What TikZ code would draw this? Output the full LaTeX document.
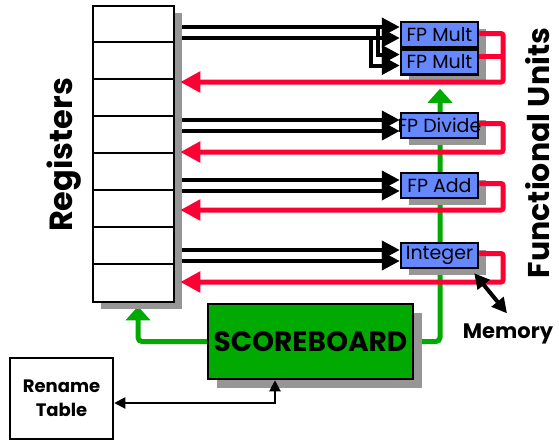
\documentclass[tikz,border=0pt]{standalone}
\usepackage{fontspec}
\setmainfont{Poppins}
\usetikzlibrary{arrows.meta,positioning,calc,shadows,backgrounds}
\definecolor{fublue}{RGB}{102,136,255}
\definecolor{fured}{RGB}{255,0,51}
\definecolor{fugreen}{RGB}{0,170,0}
\definecolor{fushadow}{RGB}{150,150,150}
\newcommand{\funame}[1]{\makebox[0pt]{#1}}
\tikzset{
  fushade/.style={drop shadow={shadow xshift=8pt, shadow yshift=-7pt, fill=fushadow, opacity=1}},
  fubox/.style={draw=black, line width=2.5pt, fill=fublue, minimum width=77pt, minimum height=25pt, inner sep=0pt, font=\fontsize{19}{19}\selectfont, fushade},
  regbox/.style={draw=black, line width=2.5pt, fill=white, minimum width=81pt, minimum height=296pt, inner sep=0pt, fushade},
  scorebox/.style={draw=black, line width=2.5pt, fill=fugreen, minimum width=205pt, minimum height=75pt, inner sep=0pt, font=\fontsize{28}{28}\selectfont\bfseries, drop shadow={shadow xshift=9pt, shadow yshift=-9pt, fill=fushadow, opacity=1}},
  renamebox/.style={draw=black, line width=2.5pt, fill=white, minimum width=103pt, minimum height=81pt, inner sep=0pt, align=center, font=\fontsize{18}{24}\selectfont\bfseries},
  bigtext/.style={font=\fontsize{#1}{#1}\selectfont\bfseries, rotate=90},
  fubus/.style={line width=4pt, -{Triangle[length=18pt,width=18pt]}},
  fuback/.style={draw=fured, line width=5pt, rounded corners=2pt, -{Triangle[length=20pt,width=20pt]}},
  fuissue/.style={draw=fugreen, line width=5pt, rounded corners=4pt, -{Triangle[length=14pt,width=24pt]}},
  fuplain/.style={line width=2pt, {Triangle[length=11pt,width=11pt]}-{Triangle[length=11pt,width=11pt]}},
  fumem/.style={line width=4pt, {Triangle[length=15pt,width=15pt]}-{Triangle[length=15pt,width=15pt]}}
}

\begin{document}
\begin{tikzpicture}[x=1pt, y=-1pt]
  \useasboundingbox (0,0) rectangle (559,440);

  % register file
  \node[regbox] (regs) at (133.5,154) {};
  \foreach \i in {1,...,7}
    \draw[line width=2.5pt] ($(regs.north west)+(0,37*\i)$) -- ($(regs.north east)+(0,37*\i)$);
  \node[bigtext=32] (reglab) at (64,155) {Registers};

  % scoreboard and rename table
  \node[scorebox] (score) at (310.5,341.5) {SCOREBOARD};
  \node[renamebox] (rename) at (61.5,398.5) {Rename\\Table};
  \draw[fuplain] ($(rename.east)+(0,4.5)$) -| ($(score.south)+(-35.5,0)$);

  % functional units
  \node[fubox] (fpmA) at (439.5,34.5) {\funame{FP Mult}};
  \node[fubox, below=0pt of fpmA] (fpmB) {\funame{FP Mult}};
  \node[fubox] (fpdiv) at (439.5,125.5) {\funame{FP Divide}};
  \node[fubox] (fpadd) at (439.5,185.5) {\funame{FP Add}};
  \node[fubox] (fpint) at (439.5,255.5) {\funame{Integer}};
  \node[bigtext=30] (fulab) at (538,153) {Functional Units};
  \node[font=\fontsize{21}{21}\selectfont\bfseries] (mem) at (508,334) {Memory};

  % issue paths (under the units)
  \begin{scope}[on background layer]
    \draw[fuissue] (score.east) -| ($(fpmB.south)+(0.5,13)$);
    \draw[fuissue] (score.west) -| ($(regs.south)+(4.5,3)$);
  \end{scope}

  % operand buses
  \foreach \d in {-7.5,3.5}
    \draw[fubus] ($(regs.east |- fpmA.west)+(7,\d)$) -- ($(fpmA.west)+(0,\d)$);
  \draw[fubus] ($(fpmA.west)+(-22,-7.5)$) |- ($(fpmB.west)+(0,-7.5)$);
  \draw[fubus] ($(fpmA.west)+(-29,3.5)$) |- ($(fpmB.west)+(0,3.5)$);
  \foreach \u in {fpdiv,fpadd,fpint}
    \foreach \d in {-5.5,5.5}
      \draw[fubus] ($(regs.east |- \u.west)+(7,\d)$) -- ($(\u.west)+(0,\d)$);

  % result buses
  \coordinate (retA) at (503,82);
  \coordinate (retB) at (503,152);
  \coordinate (retC) at (503,210);
  \coordinate (retD) at (503,282);
  \draw[fured, line width=5pt] ($(fpmB.east)+(0,-5.5)$) -- ($(fpmB.east -| retA)+(0,-5.5)$);
  \draw[fuback] ($(fpmA.east)+(0,-1)$) -| (retA) -- ($(retA -| regs.east)+(5,0)$);
  \foreach \u/\r in {fpdiv/retB,fpadd/retC,fpint/retD}
    \draw[fuback] ($(\u.east)+(0,-2)$) -| (\r) -- ($(\r -| regs.east)+(5,0)$);

  % memory port
  \draw[fumem] ($(fpint.south east)+(-5,4)$) -- ($(mem.north)+(-1,-7)$);
\end{tikzpicture}
\end{document}
